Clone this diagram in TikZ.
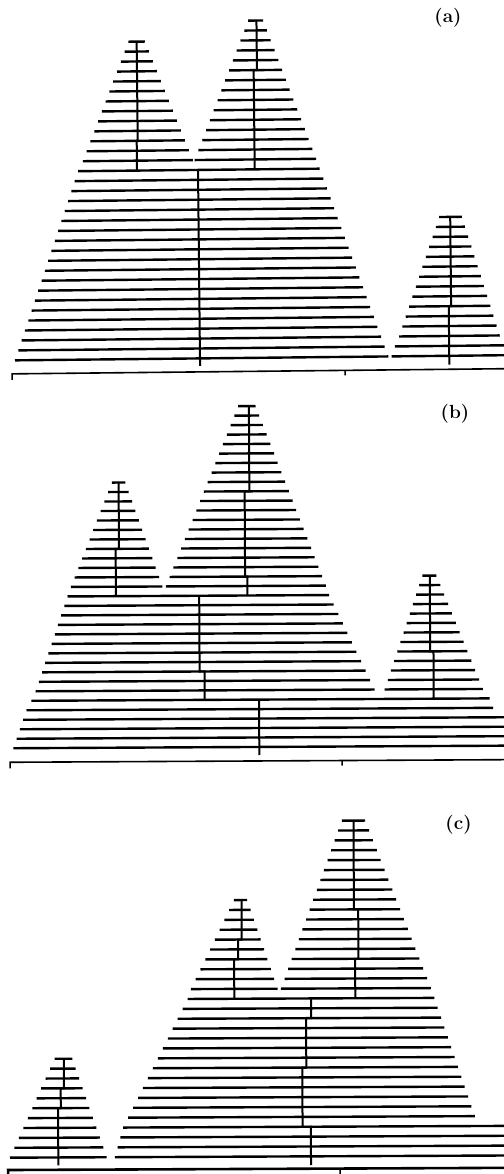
\documentclass[tikz,border=0pt]{standalone}
\usepackage{tikz}

% one level of a peak: top row, bottom row, left x (top, bottom), right x (top, bottom)
\newcommand{\rungs}[6]{%
  \foreach \n in {#2,...,#1}{%
    \pgfmathsetmacro{\w}{(#1-\n)/max(#1-#2,1)}%
    \draw[rung] ({#3+\w*(#4-#3)},\n) -- ({#5+\w*(#6-#5)},\n);
  }}

\tikzset{
  rung/.style={line width=2.4pt},
  trunk/.style={line width=2pt},
  baseaxis/.style={line width=1.6pt},
  panellabel/.style={font=\bfseries\fontsize{19}{21}\selectfont}
}

\begin{document}
\begin{tikzpicture}[x=1pt,y=-1pt]
      \useasboundingbox (0,0) rectangle (503,1174);
      % (a)
      \node[panellabel] (laba) at (448,17.5) {(a)};
      \begin{scope}[shift={(0,360.5)},rotate=0.6,y=9.92pt]
        \rungs{32}{20}{131.7}{85}{148.3}{195}
        \rungs{34}{20}{251.7}{196.7}{266.7}{318.3}
        \rungs{19}{0}{80}{15}{321.7}{388.3}
        \rungs{14}{2}{440.7}{399.3}{463.3}{500}
        \rungs{1}{0}{395}{391.7}{506}{506}
        \draw[trunk] (140,32) -- (140,22) -- (139,22) -- (139,19);
        \draw[trunk] (260,34) -- (260,29) -- (256.7,29) -- (256.7,19);
        \draw[trunk] (200,19) -- (200,-0.75);
        \draw[trunk] (451.7,14) -- (451.7,5) -- (449.3,5) -- (449.3,-0.9);
        \draw[baseaxis] (12,-1.36) ++(0,-6pt) -- (12,-1.36) -- (506,-1.36);
        \draw[baseaxis] (345,-1.36) -- ++(0,-5pt);
      \end{scope}
      % (b)
      \node[panellabel] (labb) at (455,413.5) {(b)};
      \begin{scope}[shift={(0,748.3)},rotate=0.3,y=9.47pt]
        \rungs{28}{17}{113.3}{71.7}{126.7}{163.3}
        \rungs{36}{17}{240}{166.7}{257.3}{326.7}
        \rungs{16}{6}{68.3}{36}{330}{375}
        \rungs{18}{6}{423.3}{385}{437.3}{483.3}
        \rungs{5}{4}{31.7}{26.7}{490}{493.3}
        \rungs{3}{0}{23.3}{13.3}{506}{506}
        \draw[trunk] (120,28) -- (120,21) -- (116.7,21) -- (116.7,16);
        \draw[trunk] (250.7,36) -- (250.7,27) -- (246,27) -- (246,18) -- (248.3,18) -- (248.3,16);
        \draw[trunk] (200,16) -- (200,8) -- (205,8) -- (205,5);
        \draw[trunk] (430.7,18) -- (430.7,10) -- (434,10) -- (434,5);
        \draw[trunk] (259.3,5) -- (259.3,-0.85);
        \draw[baseaxis] (10,-1.48) ++(0,-6pt) -- (10,-1.48) -- (506,-1.48);
        \draw[baseaxis] (342,-1.48) -- ++(0,-5pt);
      \end{scope}
      % (c)
      \node[panellabel] (labc) at (458.5,824.5) {(c)};
      \begin{scope}[shift={(0,1157.7)},rotate=0.25,y=9.87pt]
        \rungs{10}{0}{55}{10}{72.7}{106.7}
        \rungs{26}{17}{235}{191.7}{248.3}{278.3}
        \rungs{34}{17}{343.3}{281.7}{366.7}{431.7}
        \rungs{16}{4}{188.3}{128.3}{435}{475}
        \rungs{3}{0}{123.3}{115}{506}{506}
        \draw[trunk] (64.3,10) -- (64.3,7) -- (61,7) -- (61,5) -- (58.3,5) -- (58.3,-0.8);
        \draw[trunk] (242.7,26) -- (242.7,22) -- (239,22) -- (239,20) -- (235,20) -- (235,16);
        \draw[trunk] (355,34) -- (355,25) -- (359.3,25) -- (359.3,20) -- (356,20) -- (356,16);
        \draw[trunk] (311.7,16) -- (311.7,14) -- (306.7,14) -- (306.7,9) -- (302.7,9) -- (302.7,3) -- (311,3) -- (311,-0.9);
        \draw[baseaxis,line width=2.6pt] (8,-1.25) ++(0,-8pt) -- (8,-1.25) -- (506,-1.25);
        \draw[baseaxis] (340,-1.25) -- ++(0,-6pt);
      \end{scope}
\end{tikzpicture}
\end{document}
